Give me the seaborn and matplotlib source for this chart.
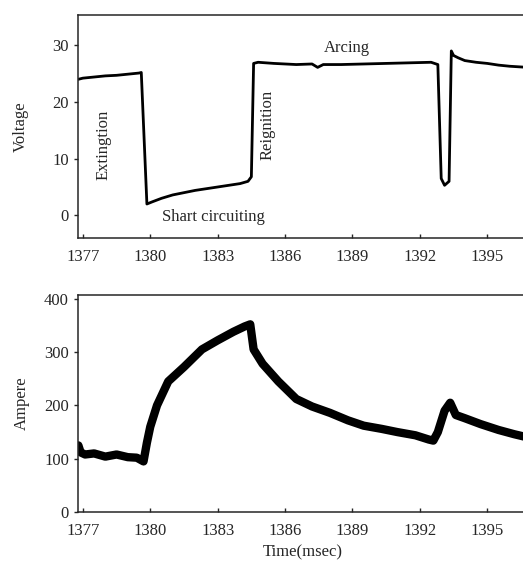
import matplotlib
matplotlib.use("Agg")
import matplotlib.pyplot as plt
import seaborn as sns
import pandas as pd

# Voltage trace
v_time = [1376.8, 1377.0, 1377.5, 1378.0, 1378.5, 1379.0, 1379.5, 1379.6,
          1379.85, 1380.1, 1380.5, 1381.0, 1381.5, 1382.0, 1382.5, 1383.0,
          1383.5, 1384.0, 1384.35, 1384.5, 1384.6, 1384.8, 1385.5, 1386.5,
          1387.2, 1387.45, 1387.7, 1388.5, 1389.5, 1390.5, 1391.5, 1392.5,
          1392.8, 1392.95, 1393.1, 1393.3, 1393.4, 1393.5, 1393.7, 1394.0,
          1394.5, 1395.0, 1395.5, 1396.0, 1396.8]
v_vals = [24.0, 24.2, 24.4, 24.6, 24.7, 24.9, 25.1, 25.2,
          2.0, 2.4, 3.0, 3.6, 4.0, 4.4, 4.7, 5.0,
          5.3, 5.6, 6.0, 6.8, 26.8, 27.0, 26.8, 26.6,
          26.7, 26.1, 26.6, 26.6, 26.7, 26.8, 26.9, 27.0,
          26.6, 6.5, 5.3, 6.0, 29.0, 28.2, 27.8, 27.3,
          27.0, 26.8, 26.5, 26.3, 26.1]

# Current trace
a_time = [1376.8, 1376.9, 1377.1, 1377.5, 1378.0, 1378.5, 1379.0, 1379.4,
          1379.7, 1379.85, 1380.0, 1380.3, 1380.8, 1381.5, 1382.3, 1383.0,
          1383.7, 1384.2, 1384.45, 1384.6, 1385.0, 1385.7, 1386.5, 1387.2,
          1388.0, 1388.8, 1389.5, 1390.3, 1391.0, 1391.8, 1392.4, 1392.6,
          1392.8, 1393.1, 1393.35, 1393.6, 1394.0, 1394.7, 1395.5, 1396.2,
          1396.8]
a_vals = [125, 112, 108, 110, 104, 108, 103, 102,
          95, 130, 160, 200, 245, 272, 305, 322,
          338, 348, 352, 305, 278, 245, 212, 198,
          186, 172, 162, 156, 150, 144, 136, 134,
          150, 190, 205, 182, 176, 165, 154, 146,
          140]

x_ticks = [1377, 1380, 1383, 1386, 1389, 1392, 1395]
v_ticks = [0, 10, 20, 30]
a_ticks = [0, 100, 200, 300, 400]

sns.set_style("ticks")
plt.rcParams['font.family'] = ['Liberation Serif', 'DejaVu Serif']
plt.rcParams['font.size'] = 12
plt.rcParams['axes.linewidth'] = 1.1

dfv = pd.DataFrame({"t": v_time, "v": v_vals})
dfa = pd.DataFrame({"t": a_time, "a": a_vals})

fig = plt.figure(figsize=(5.23, 5.64), dpi=100)
ax1 = fig.add_axes([0.149, 0.578, 0.86, 0.395])
ax2 = fig.add_axes([0.149, 0.092, 0.86, 0.385])

sns.lineplot(data=dfv, x="t", y="v", ax=ax1, color="black", linewidth=2.0)
sns.lineplot(data=dfa, x="t", y="a", ax=ax2, color="black", linewidth=6.0,
             solid_joinstyle="round")

for ax in (ax1, ax2):
    ax.set_xlim(1376.78, 1396.8)
    ax.set_xticks(x_ticks)
    ax.spines['right'].set_visible(False)
    ax.tick_params(axis='x', direction='in', length=3, width=1, pad=8, labelsize=12)
    ax.tick_params(axis='y', direction='out', length=3, width=1, labelsize=12)
    ax.set_xlabel("")

ax1.set_ylim(-4.0, 35.3)
ax1.set_yticks(v_ticks)
ax1.set_ylabel("Voltage", fontsize=12, labelpad=17)

ax2.set_ylim(0, 407)
ax2.set_yticks(a_ticks)
ax2.set_ylabel("Ampere", fontsize=12, labelpad=10)
ax2.set_xlabel("Time(msec)", fontsize=12, labelpad=4)

ax1.text(1377.9, 12.4, "Extingtion", rotation=90, ha="center", va="center", fontsize=12)
ax1.text(1380.5, -0.3, "Shart circuiting", ha="left", va="center", fontsize=12)
ax1.text(1385.2, 15.9, "Reignition", rotation=90, ha="center", va="center", fontsize=12)
ax1.text(1388.75, 29.6, "Arcing", ha="center", va="center", fontsize=12)

fig.savefig("out.png", dpi=100)
